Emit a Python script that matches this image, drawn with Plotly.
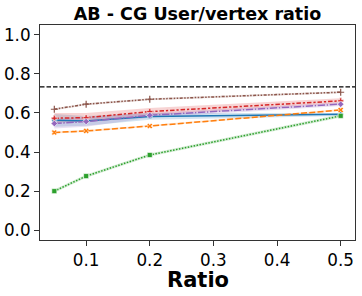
import plotly.graph_objects as go

ratios = [0.05, 0.1, 0.2, 0.5]
series_names = ["s1", "s2", "s3", "s4", "s5", "s6"]
colors = ["#1f77b4", "#ff7f0e", "#2ca02c", "#d62728", "#9467bd", "#8c564b"]
values = [
    [0.563, 0.559, 0.582, 0.593],
    [0.500, 0.508, 0.533, 0.615],
    [0.200, 0.277, 0.385, 0.585],
    [0.573, 0.576, 0.607, 0.662],
    [0.546, 0.556, 0.588, 0.645],
    [0.619, 0.645, 0.670, 0.706],
]
lower = [
    [0.530, 0.535, 0.565, 0.585],
    [0.495, 0.503, 0.528, 0.610],
    [0.192, 0.269, 0.377, 0.577],
    [0.550, 0.555, 0.590, 0.650],
    [0.520, 0.530, 0.575, 0.635],
    [0.614, 0.640, 0.665, 0.701],
]
upper = [
    [0.595, 0.585, 0.600, 0.600],
    [0.505, 0.513, 0.538, 0.620],
    [0.208, 0.285, 0.393, 0.593],
    [0.600, 0.600, 0.625, 0.675],
    [0.570, 0.580, 0.600, 0.655],
    [0.624, 0.650, 0.675, 0.711],
]
baseline = 0.733
x_ticks = [0.1, 0.2, 0.3, 0.4, 0.5]
y_ticks = [0.0, 0.2, 0.4, 0.6, 0.8, 1.0]

dashes = ["solid", "6px,2.25px", "1.5px,1.5px", "4.5px,1.9px,2.25px,1.9px",
          "7.5px,1.5px,1.5px,1.5px", "3px,1.5px,1.5px,1.5px,1.5px,1.5px"]
symbols = ["circle", "x", "square", "cross", "diamond", "cross-thin"]

def rgba(h, a):
    h = h.lstrip("#")
    return "rgba(%d,%d,%d,%s)" % (int(h[0:2], 16), int(h[2:4], 16), int(h[4:6], 16), a)

fig = go.Figure()
for i, name in enumerate(series_names):
    fig.add_trace(go.Scatter(x=ratios + ratios[::-1], y=upper[i] + lower[i][::-1],
                             fill="toself", fillcolor=rgba(colors[i], 0.2),
                             line=dict(width=0), hoverinfo="skip", showlegend=False, mode="lines"))
for i, name in enumerate(series_names):
    mk = dict(symbol=symbols[i], size=5, color=colors[i], line=dict(width=0.6, color="white"))
    if symbols[i] == "cross-thin":
        mk = dict(symbol="cross-thin", size=5, color=colors[i], line=dict(width=1.2, color=colors[i]))
    fig.add_trace(go.Scatter(x=ratios, y=values[i], mode="lines+markers", name=name,
                             line=dict(color=colors[i], width=1.5, dash=dashes[i]),
                             marker=mk, showlegend=False))

fig.add_hline(y=baseline, line=dict(color="black", width=1.2, dash="4.5px,2px"))

axis_common = dict(showline=True, linecolor="#333333", linewidth=1, mirror=True,
                   ticks="outside", ticklen=5, tickwidth=1, tickcolor="#333333",
                   showgrid=False, zeroline=False, automargin=False,
                   tickfont=dict(family="DejaVu Sans", size=16.8, color="black"))

fig.update_layout(
    width=362, height=296,
    margin=dict(l=40, r=7, t=25, b=56),
    paper_bgcolor="white", plot_bgcolor="white",
    title=dict(text="<b>AB - CG User/vertex ratio</b>", x=0.5, xref="paper",
               y=1 - 14 / 296, yref="container", yanchor="middle", xanchor="center",
               font=dict(family="DejaVu Sans", size=17.5, color="black")),
    xaxis=dict(range=[0.0275, 0.5225], tickvals=x_ticks, tickformat=".1f", **axis_common),
    yaxis=dict(range=[-0.05, 1.05], tickvals=y_ticks, tickformat=".1f", **axis_common),
    annotations=[dict(text="<b>Ratio</b>", x=0.5, xref="paper", y=-0.186, yref="paper",
                      xanchor="center", yanchor="middle", showarrow=False,
                      font=dict(family="DejaVu Sans", size=21, color="black"))],
)
fig.write_html("out.html", config={"displayModeBar": False},
               post_script="document.body.style.margin='0';document.body.style.overflow='hidden';")
